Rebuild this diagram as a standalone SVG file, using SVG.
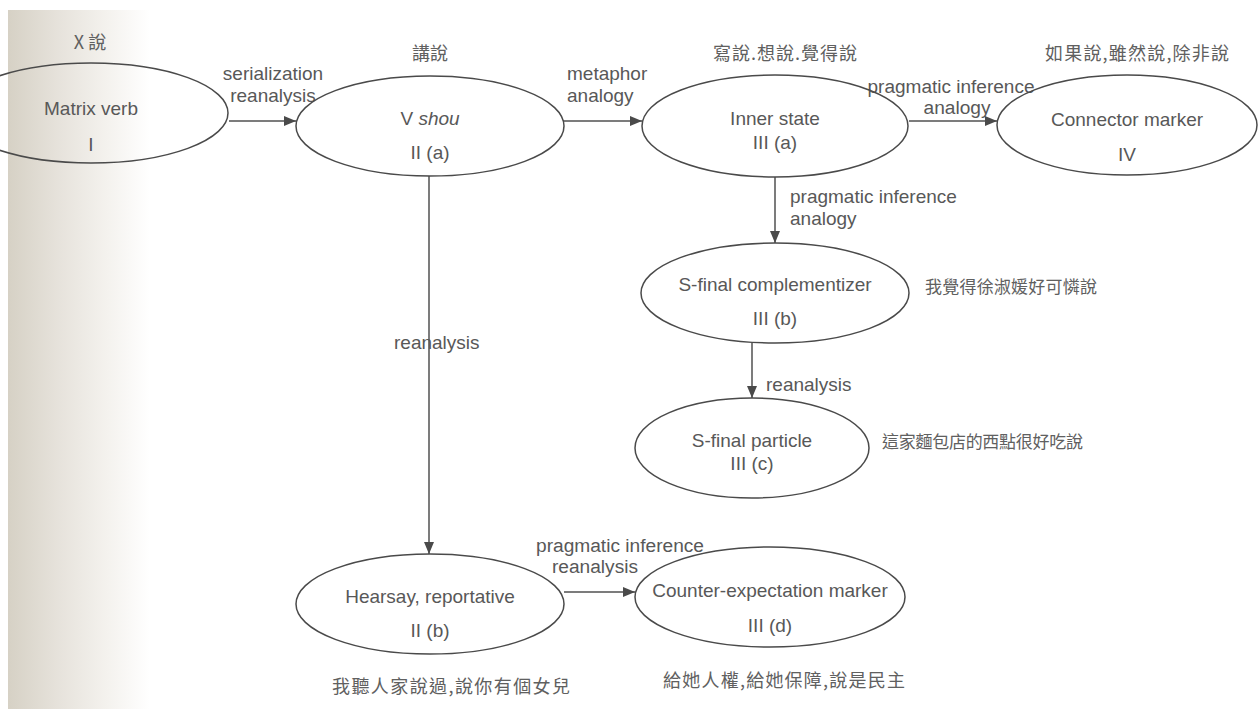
<svg xmlns="http://www.w3.org/2000/svg" width="1258" height="709" viewBox="0 0 1258 709">
<style>
text{font-family:"Liberation Sans","Noto Sans CJK TC",Arial,sans-serif;font-size:19px;fill:#585858}
.c{text-anchor:middle}
.zh{font-family:"Noto Sans CJK TC","Liberation Sans",sans-serif;font-size:18px;fill:#606060}
.zs{font-size:17px}
.tight{font-size:18px}
ellipse{fill:none;stroke:#4a4a4a;stroke-width:1.5}
.edge{stroke:#505050;stroke-width:1.5;fill:none;marker-end:url(#ah)}
</style>
<defs>
<linearGradient id="bg" gradientUnits="userSpaceOnUse" x1="8" y1="0" x2="150" y2="0">
<stop offset="0" stop-color="#d6d1c5"/>
<stop offset="0.35" stop-color="#e6e2db"/>
<stop offset="0.7" stop-color="#f4f2ee"/>
<stop offset="1" stop-color="#ffffff"/>
</linearGradient>
<marker id="ah" viewBox="0 0 12 10" refX="12" refY="5" markerWidth="12" markerHeight="10" markerUnits="userSpaceOnUse" orient="auto">
<path d="M0,0 L12,5 L0,10 z" fill="#4a4a4a"/>
</marker>
</defs>
<rect x="0" y="0" width="1258" height="709" fill="#ffffff"/>
<rect x="8" y="10" width="1250" height="699" fill="url(#bg)"/>

<g id="connectors">
<line class="edge" x1="229" y1="121" x2="296" y2="121"/>
<line class="edge" x1="563" y1="121" x2="642" y2="121"/>
<line class="edge" x1="909" y1="121" x2="997" y2="121"/>
<line class="edge" x1="429" y1="176" x2="429" y2="554"/>
<line class="edge" x1="775" y1="177" x2="775" y2="243"/>
<line class="edge" x1="752" y1="343" x2="752" y2="398"/>
<line class="edge" x1="564" y1="592" x2="635" y2="592"/>
<text class="c" x="273" y="80">serialization</text>
<text class="c" x="273" y="102">reanalysis</text>
<text x="567" y="80">metaphor</text>
<text x="567" y="102">analogy</text>
<text class="c tight" x="951" y="93" textLength="167" lengthAdjust="spacingAndGlyphs">pragmatic inference</text>
<text class="c tight" x="957" y="114" textLength="67" lengthAdjust="spacingAndGlyphs">analogy</text>
<text x="790" y="203">pragmatic inference</text>
<text x="790" y="225">analogy</text>
<text x="766" y="391">reanalysis</text>
<text x="394" y="349">reanalysis</text>
<text class="c tight" x="620" y="552" textLength="168" lengthAdjust="spacingAndGlyphs">pragmatic inference</text>
<text class="c tight" x="595" y="573" textLength="86" lengthAdjust="spacingAndGlyphs">reanalysis</text>
</g>

<g id="node-matrix">
<ellipse cx="91" cy="113" rx="137" ry="50"/>
<text class="c zh" x="90" y="49">X 說</text>
<text class="c" x="91" y="115">Matrix verb</text>
<text class="c" x="91" y="151">I</text>
</g>

<g id="node-vshou">
<ellipse cx="430" cy="126" rx="134" ry="50"/>
<text class="c zh" x="430" y="60">講說</text>
<text class="c" x="430" y="125">V <tspan font-style="italic">shou</tspan></text>
<text class="c" x="430" y="159">II (a)</text>
</g>

<g id="node-inner">
<ellipse cx="775" cy="126" rx="133" ry="51"/>
<text class="zh" x="713" y="60" textLength="144" lengthAdjust="spacing">寫說.想說.覺得說</text>
<text class="c" x="775" y="125">Inner state</text>
<text class="c" x="775" y="149">III (a)</text>
</g>

<g id="node-connector">
<ellipse cx="1127" cy="125" rx="130" ry="50"/>
<text class="zh" x="1045" y="60" textLength="184" lengthAdjust="spacing">如果說,雖然說,除非說</text>
<text class="c" x="1127" y="126">Connector marker</text>
<text class="c" x="1127" y="161">IV</text>
</g>

<g id="node-complementizer">
<ellipse cx="775" cy="293" rx="134" ry="50"/>
<text class="c" x="775" y="291">S-final complementizer</text>
<text class="c" x="775" y="325">III (b)</text>
<text class="zh zs" x="925" y="293" textLength="172" lengthAdjust="spacing">我覺得徐淑媛好可憐說</text>
</g>

<g id="node-particle">
<ellipse cx="752" cy="448" rx="117" ry="50"/>
<text class="c" x="752" y="447">S-final particle</text>
<text class="c" x="752" y="470">III (c)</text>
<text class="zh zs" x="882" y="448" textLength="201" lengthAdjust="spacing">這家麵包店的西點很好吃說</text>
</g>

<g id="node-hearsay">
<ellipse cx="430" cy="604" rx="134" ry="50"/>
<text class="c" x="430" y="603">Hearsay, reportative</text>
<text class="c" x="430" y="637">II (b)</text>
<text class="zh" x="332" y="693" textLength="238" lengthAdjust="spacing">我聽人家說過,說你有個女兒</text>
</g>

<g id="node-counter">
<ellipse cx="770" cy="597" rx="135" ry="50"/>
<text class="c" x="770" y="597">Counter-expectation marker</text>
<text class="c" x="770" y="632">III (d)</text>
<text class="zh" x="663" y="687" textLength="242" lengthAdjust="spacing">給她人權,給她保障,說是民主</text>
</g>
</svg>
